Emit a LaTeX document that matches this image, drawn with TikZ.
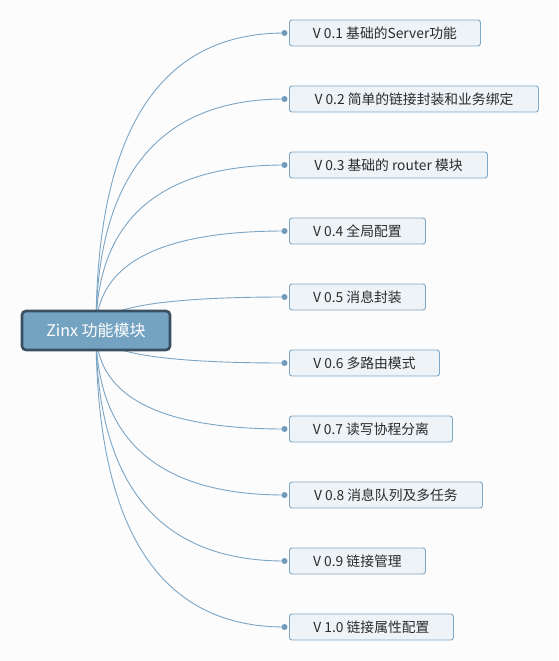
\documentclass[tikz,border=0pt]{standalone}
\usepackage{fontspec}
\setmainfont{Noto Sans CJK SC}
\usetikzlibrary{calc}
\definecolor{pagebg}{HTML}{FCFCFC}
\definecolor{linkblue}{HTML}{7BA5C5}
\definecolor{dotblue}{HTML}{6F9BBD}
\definecolor{leaffill}{HTML}{EEF3F7}
\definecolor{leafborder}{HTML}{7EA8C6}
\definecolor{hubfill}{HTML}{74A2C1}
\definecolor{hubborder}{HTML}{394F62}
\definecolor{textdark}{HTML}{2B2B2B}
\begin{document}
\begin{tikzpicture}[x=1pt, y=-1pt,
    topic/.style={draw=hubborder, fill=hubfill, line width=2.6pt, rounded corners=4pt,
        minimum width=148pt, minimum height=39pt, text=white,
        font=\fontsize{16}{19}\selectfont},
    leaf/.style={draw=leafborder, fill=leaffill, line width=0.9pt, rounded corners=2.5pt,
        minimum height=26pt, inner sep=0pt, anchor=west, text=textdark,
        font=\fontsize{13.8}{16}\selectfont},
    link/.style={draw=linkblue, line width=0.9pt}]
    % page
    \fill[pagebg] (0,0) rectangle (558,661);
    \useasboundingbox (0,0) rectangle (558,661);
    \coordinate (hub) at (96,330.5);
    % subtopics and their links
    \foreach \i/\w/\txt [evaluate=\i as \yy using 33+66*(\i-1)] in {
            1/191/{V 0.1 基础的Server功能},
            2/249/{V 0.2 简单的链接封装和业务绑定},
            3/198/{V 0.3 基础的 router 模块},
            4/136/{V 0.4 全局配置},
            5/136/{V 0.5 消息封装},
            6/150/{V 0.6 多路由模式},
            7/163/{V 0.7 读写协程分离},
            8/193/{V 0.8 消息队列及多任务},
            9/136/{V 0.9 链接管理},
            10/164/{V 1.0 链接属性配置}}{
        \coordinate (d\i) at (284.5,\yy);
        \node[leaf, minimum width=\w pt] (v\i) at (289,\yy) {\txt};
        \draw[link] (hub) .. controls ($(hub)!0.667!(hub|-d\i)$)
            and ($(d\i)!0.667!(hub|-d\i)$) .. (d\i);
        \fill[dotblue] (d\i) circle (3pt);
    }
    % central topic
    \node[topic] (zinx) at (hub) {Zinx 功能模块};
\end{tikzpicture}
\end{document}
